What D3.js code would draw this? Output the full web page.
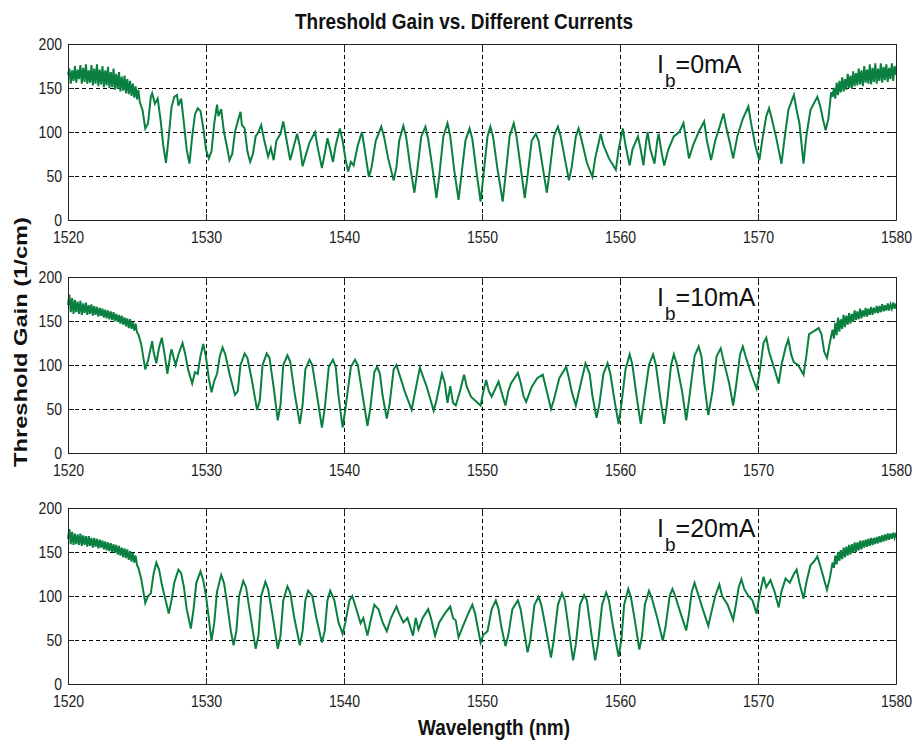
<!DOCTYPE html>
<html>
<head>
<meta charset="utf-8">
<script src="https://cdn.jsdelivr.net/npm/d3@7"></script>
<style>
  body { margin: 0; background: #fff; }
  svg { display: block; overflow: visible; }
</style>
</head>
<body>
<div id="chart"></div>
<script>
// axis ticks
const wavelengthTicks = [1520, 1530, 1540, 1550, 1560, 1570, 1580];
const gainTicks = [0, 50, 100, 150, 200];
const currents = ["0mA", "10mA", "20mA"];

// threshold gain (1/cm) vs wavelength (nm)
const ib0mA = [
  [1520.0,165],[1520.1,172],[1520.2,155],[1520.3,170],[1520.4,158],[1520.5,175],[1520.6,156],[1520.7,171],[1520.8,160],[1520.9,176],
  [1521.0,155],[1521.1,173],[1521.2,157],[1521.3,177],[1521.4,155],[1521.5,170],[1521.6,156],[1521.7,176],[1521.8,153],[1521.9,172],
  [1522.0,155],[1522.1,177],[1522.2,152],[1522.3,171],[1522.4,154],[1522.5,175],[1522.6,151],[1522.7,170],[1522.8,153],[1522.9,174],
  [1523.0,150],[1523.1,168],[1523.2,151],[1523.3,172],[1523.4,148],[1523.5,166],[1523.6,149],[1523.7,168],[1523.8,146],[1523.9,163],
  [1524.0,147],[1524.1,164],[1524.2,144],[1524.3,160],[1524.4,143],[1524.5,158],[1524.6,141],[1524.7,155],[1524.8,139],[1524.9,152],
  [1525.0,137],[1525.1,148],[1525.2,134],
  [1525.4,125],[1525.6,104],[1525.8,110],[1526.0,140],[1526.1,144],[1526.3,132],[1526.5,138],[1526.7,115],[1526.9,85],[1527.1,65],
  [1527.3,95],[1527.5,128],[1527.7,140],[1527.9,142],[1528.0,130],[1528.2,138],[1528.4,110],[1528.6,80],[1528.8,64],[1529.0,95],
  [1529.2,120],[1529.4,127],[1529.6,124],[1529.8,105],[1530.0,80],[1530.2,70],[1530.4,78],[1530.6,110],[1530.8,131],[1530.9,118],
  [1531.1,126],[1531.3,100],[1531.5,85],[1531.7,68],[1531.9,75],[1532.1,100],[1532.3,112],[1532.5,123],[1532.6,108],[1532.8,104],
  [1533.0,78],[1533.2,66],[1533.4,75],[1533.6,95],[1533.8,100],[1534.0,108],[1534.2,92],[1534.5,72],[1534.7,82],[1534.9,68],
  [1535.1,90],[1535.4,98],[1535.6,112],[1535.8,94],[1536.1,68],[1536.3,80],[1536.6,98],[1536.8,84],[1537.0,61],[1537.2,72],
  [1537.5,88],[1537.9,100],[1538.1,82],[1538.4,59],[1538.6,75],[1538.8,93],[1539.0,80],[1539.2,66],[1539.4,85],[1539.7,104],
  [1539.9,90],[1540.1,70],[1540.3,55],[1540.5,66],[1540.7,62],[1541.0,85],[1541.3,100],[1541.5,80],[1541.8,49],[1542.0,60],
  [1542.3,90],[1542.7,106],[1542.9,95],[1543.2,70],[1543.6,45],[1543.8,60],[1544.0,90],[1544.3,107],[1544.5,95],[1544.8,60],
  [1545.1,31],[1545.3,55],[1545.6,95],[1545.9,106],[1546.1,92],[1546.4,60],[1546.7,25],[1546.9,50],[1547.2,95],[1547.5,110],
  [1547.7,95],[1548.0,55],[1548.3,23],[1548.5,50],[1548.8,90],[1549.1,104],[1549.3,92],[1549.6,55],[1549.9,21],[1550.1,50],
  [1550.4,95],[1550.6,106],[1550.8,95],[1551.1,60],[1551.5,21],[1551.7,50],[1552.0,95],[1552.3,110],[1552.5,95],[1552.8,60],
  [1553.1,25],[1553.3,50],[1553.6,90],[1553.9,98],[1554.1,90],[1554.4,60],[1554.7,31],[1554.9,55],[1555.2,95],[1555.5,106],
  [1555.7,95],[1556.0,70],[1556.3,45],[1556.5,60],[1556.8,95],[1557.0,104],[1557.2,92],[1557.6,65],[1558.0,49],[1558.2,70],
  [1558.6,98],[1558.8,85],[1559.2,70],[1559.7,57],[1559.9,80],[1560.2,104],[1560.4,85],[1560.7,62],[1560.9,80],[1561.3,95],
  [1561.5,80],[1561.7,62],[1561.9,90],[1562.0,100],[1562.2,80],[1562.5,64],[1562.7,90],[1562.8,98],[1563.0,78],[1563.2,62],
  [1563.5,80],[1563.9,95],[1564.3,100],[1564.6,110],[1564.8,90],[1565.0,70],[1565.3,85],[1565.7,100],[1566.1,112],[1566.3,90],
  [1566.6,68],[1566.9,90],[1567.2,105],[1567.5,121],[1567.7,105],[1568.0,85],[1568.2,70],[1568.5,95],[1568.9,115],[1569.3,129],
  [1569.5,110],[1569.8,85],[1570.1,68],[1570.3,90],[1570.6,118],[1570.8,127],[1571.0,115],[1571.3,95],[1571.7,64],[1571.9,90],
  [1572.2,125],[1572.6,142],[1572.8,125],[1573.0,110],[1573.3,64],[1573.5,95],[1573.8,125],[1574.3,140],[1574.5,130],[1574.7,115],
  [1574.9,102],[1575.1,115],[1575.3,145],
  [1575.4,140],[1575.5,150],[1575.6,138],[1575.7,156],[1575.8,142],[1575.9,158],[1576.0,145],[1576.1,162],[1576.2,146],[1576.3,160],
  [1576.4,148],[1576.5,166],[1576.6,150],[1576.7,164],[1576.8,149],[1576.9,169],[1577.0,152],[1577.1,167],[1577.2,153],[1577.3,172],
  [1577.4,154],[1577.5,170],[1577.6,152],[1577.7,175],[1577.8,156],[1577.9,171],[1578.0,155],[1578.1,177],[1578.2,154],[1578.3,173],
  [1578.4,157],[1578.5,178],[1578.6,155],[1578.7,172],[1578.8,158],[1578.9,178],[1579.0,156],[1579.1,174],[1579.2,159],[1579.3,177],
  [1579.4,157],[1579.5,173],[1579.6,160],[1579.7,178],[1579.8,158],[1579.9,175],[1580.0,165]
];

const ib10mA = [
  [1520.0,168],[1520.1,180],[1520.2,160],[1520.3,176],[1520.4,158],[1520.5,174],[1520.6,160],[1520.7,172],[1520.8,158],[1520.9,173],
  [1521.0,157],[1521.1,170],[1521.2,159],[1521.3,171],[1521.4,157],[1521.5,168],[1521.6,158],[1521.7,169],[1521.8,156],[1521.9,167],
  [1522.0,157],[1522.1,166],[1522.2,155],[1522.3,165],[1522.4,156],[1522.5,164],[1522.6,154],[1522.7,163],[1522.8,153],[1522.9,162],
  [1523.0,152],[1523.1,161],[1523.2,151],[1523.3,160],[1523.4,150],[1523.5,158],[1523.6,149],[1523.7,157],[1523.8,147],[1523.9,156],
  [1524.0,146],[1524.1,154],[1524.2,144],[1524.3,153],[1524.4,142],[1524.5,152],[1524.6,141],[1524.7,149],[1524.8,139],[1524.9,147],
  [1525.0,137],[1525.1,135],
  [1525.3,124],[1525.6,95],[1525.8,105],[1526.1,127],[1526.2,115],[1526.4,102],[1526.6,120],[1526.8,131],[1527.0,112],[1527.2,90],
  [1527.4,110],[1527.5,118],[1527.8,100],[1528.0,112],[1528.3,125],[1528.5,112],[1528.7,95],[1529.0,79],[1529.2,92],[1529.4,90],
  [1529.6,110],[1529.8,124],[1530.0,109],[1530.2,85],[1530.4,69],[1530.6,82],[1530.8,90],[1531.0,110],[1531.2,120],[1531.4,112],
  [1531.7,90],[1532.1,66],[1532.3,70],[1532.5,100],[1532.8,113],[1533.0,108],[1533.3,85],[1533.7,49],[1533.9,60],[1534.1,100],
  [1534.4,113],[1534.6,108],[1534.9,75],[1535.2,37],[1535.4,55],[1535.6,100],[1535.9,111],[1536.1,104],[1536.4,70],[1536.8,33],
  [1537.0,55],[1537.2,95],[1537.5,106],[1537.7,100],[1538.0,70],[1538.4,29],[1538.6,50],[1538.9,98],[1539.2,106],[1539.4,98],
  [1539.6,65],[1539.9,29],[1540.1,50],[1540.5,98],[1540.8,106],[1541.0,100],[1541.3,70],[1541.7,31],[1541.9,50],[1542.2,92],
  [1542.4,98],[1542.6,90],[1542.8,65],[1543.1,39],[1543.3,55],[1543.6,95],[1543.8,100],[1544.0,90],[1544.4,70],[1544.9,49],
  [1545.1,65],[1545.5,97],[1545.7,88],[1546.0,75],[1546.5,48],[1546.7,60],[1547.1,90],[1547.3,80],[1547.5,57],[1547.7,76],
  [1547.9,57],[1548.1,54],[1548.4,70],[1548.7,89],[1548.9,75],[1549.2,64],[1549.9,54],[1550.1,70],[1550.3,83],[1550.5,70],
  [1550.7,64],[1551.2,81],[1551.4,70],[1551.7,54],[1551.9,70],[1552.1,79],[1552.6,91],[1552.8,80],[1553.0,65],[1553.2,58],
  [1553.6,75],[1554.0,85],[1554.4,89],[1554.7,70],[1555.0,50],[1555.2,60],[1555.6,85],[1556.1,98],[1556.3,85],[1556.5,70],
  [1556.8,54],[1557.1,75],[1557.5,102],[1557.8,90],[1558.0,65],[1558.3,40],[1558.5,55],[1558.8,90],[1559.1,102],[1559.3,90],
  [1559.6,60],[1559.9,33],[1560.1,55],[1560.4,95],[1560.7,112],[1560.9,100],[1561.2,65],[1561.5,33],[1561.7,55],[1562.1,100],
  [1562.4,112],[1562.6,100],[1562.9,65],[1563.2,33],[1563.4,55],[1563.7,100],[1563.9,112],[1564.1,102],[1564.5,70],[1564.8,37],
  [1565.0,60],[1565.4,110],[1565.7,121],[1565.9,110],[1566.1,80],[1566.4,43],[1566.7,70],[1567.0,110],[1567.3,119],[1567.5,105],
  [1567.9,80],[1568.2,54],[1568.4,75],[1568.7,112],[1568.9,121],[1569.1,110],[1569.5,90],[1569.9,73],[1570.1,90],[1570.4,125],
  [1570.6,131],[1570.8,115],[1571.0,105],[1571.2,95],[1571.5,79],[1571.7,100],[1572.0,120],[1572.2,129],[1572.4,112],[1572.6,103],
  [1572.9,100],[1573.3,89],[1573.5,110],[1573.7,135],[1574.0,138],[1574.4,142],[1574.6,135],[1574.8,115],[1575.0,108],[1575.2,125],
  [1575.4,140],
  [1575.5,130],[1575.6,148],[1575.7,134],[1575.8,154],[1575.9,138],[1576.0,152],[1576.1,141],[1576.2,157],[1576.3,143],[1576.4,156],
  [1576.5,146],[1576.6,159],[1576.7,147],[1576.8,158],[1576.9,149],[1577.0,162],[1577.1,151],[1577.2,161],[1577.3,152],[1577.4,164],
  [1577.5,153],[1577.6,162],[1577.7,155],[1577.8,165],[1577.9,155],[1578.0,164],[1578.1,157],[1578.2,166],[1578.3,157],[1578.4,165],
  [1578.5,159],[1578.6,167],[1578.7,159],[1578.8,167],[1578.9,160],[1579.0,169],[1579.1,161],[1579.2,168],[1579.3,162],[1579.4,170],
  [1579.5,162],[1579.6,169],[1579.7,164],[1579.8,171],[1579.9,164],[1580.0,170]
];

const ib20mA = [
  [1520.0,165],[1520.1,176],[1520.2,159],[1520.3,173],[1520.4,158],[1520.5,171],[1520.6,159],[1520.7,170],[1520.8,158],[1520.9,171],
  [1521.0,157],[1521.1,169],[1521.2,158],[1521.3,168],[1521.4,156],[1521.5,168],[1521.6,157],[1521.7,166],[1521.8,155],[1521.9,166],
  [1522.0,156],[1522.1,165],[1522.2,154],[1522.3,164],[1522.4,155],[1522.5,163],[1522.6,153],[1522.7,162],[1522.8,152],[1522.9,161],
  [1523.0,151],[1523.1,160],[1523.2,150],[1523.3,159],[1523.4,149],[1523.5,158],[1523.6,147],[1523.7,157],[1523.8,146],[1523.9,155],
  [1524.0,144],[1524.1,154],[1524.2,143],[1524.3,153],[1524.4,141],[1524.5,151],[1524.6,139],[1524.7,149],[1524.8,138],[1524.9,146],
  [1525.0,135],[1525.1,132],
  [1525.3,120],[1525.6,92],[1525.8,100],[1526.0,103],[1526.2,125],[1526.4,138],[1526.6,130],[1526.8,113],[1527.0,100],[1527.3,80],
  [1527.5,95],[1527.7,115],[1528.0,130],[1528.2,126],[1528.4,110],[1528.6,85],[1528.9,63],[1529.1,85],[1529.3,115],[1529.6,128],
  [1529.8,118],[1530.0,100],[1530.2,75],[1530.4,49],[1530.6,70],[1530.8,105],[1531.1,124],[1531.3,115],[1531.5,95],[1531.8,60],
  [1532.0,44],[1532.2,60],[1532.4,100],[1532.7,117],[1532.9,110],[1533.2,80],[1533.6,40],[1533.8,55],[1534.0,100],[1534.3,116],
  [1534.5,108],[1534.8,80],[1535.2,40],[1535.4,55],[1535.6,95],[1535.9,111],[1536.1,104],[1536.4,75],[1536.8,44],[1537.0,60],
  [1537.2,95],[1537.4,106],[1537.7,100],[1538.0,75],[1538.4,47],[1538.6,60],[1538.8,95],[1539.0,106],[1539.3,95],[1539.6,70],
  [1539.9,57],[1540.1,70],[1540.4,95],[1540.6,100],[1540.9,85],[1541.2,69],[1541.4,75],[1541.7,55],[1541.9,70],[1542.2,90],
  [1542.5,85],[1542.8,70],[1543.1,60],[1543.4,75],[1543.8,88],[1544.0,80],[1544.3,70],[1544.6,75],[1545.0,55],[1545.2,75],
  [1545.4,62],[1545.7,75],[1546.1,85],[1546.3,75],[1546.6,55],[1546.9,70],[1547.3,80],[1547.7,88],[1547.9,75],[1548.1,72],
  [1548.3,53],[1548.6,65],[1549.0,80],[1549.3,90],[1549.5,80],[1549.9,47],[1550.1,56],[1550.4,60],[1550.7,85],[1551.0,95],
  [1551.2,85],[1551.4,65],[1551.7,43],[1551.9,55],[1552.2,85],[1552.6,95],[1552.8,85],[1553.0,65],[1553.3,36],[1553.5,50],
  [1553.8,90],[1554.1,99],[1554.3,90],[1554.6,65],[1555.0,30],[1555.2,50],[1555.5,90],[1555.8,103],[1556.0,95],[1556.3,60],
  [1556.6,27],[1556.8,45],[1557.1,90],[1557.4,101],[1557.6,95],[1557.9,60],[1558.2,27],[1558.4,45],[1558.7,90],[1559.0,104],
  [1559.2,95],[1559.5,65],[1559.9,31],[1560.1,50],[1560.3,90],[1560.6,108],[1560.8,98],[1561.1,70],[1561.4,39],[1561.6,55],
  [1561.8,90],[1562.1,106],[1562.3,98],[1562.7,75],[1563.1,49],[1563.3,65],[1563.6,100],[1563.8,108],[1564.0,100],[1564.4,80],
  [1564.8,61],[1565.0,80],[1565.2,105],[1565.4,115],[1565.6,105],[1566.0,85],[1566.4,66],[1566.6,80],[1566.9,100],[1567.2,113],
  [1567.4,100],[1567.8,90],[1568.2,73],[1568.4,90],[1568.6,110],[1568.8,119],[1569.0,108],[1569.3,100],[1569.6,95],[1569.9,80],
  [1570.1,100],[1570.4,122],[1570.6,110],[1570.9,118],[1571.2,105],[1571.5,87],[1571.7,105],[1572.0,120],[1572.3,115],[1572.6,125],
  [1572.8,130],[1573.0,115],[1573.3,97],[1573.5,115],[1573.8,135],[1574.1,140],[1574.3,145],[1574.5,135],[1574.8,118],[1575.0,107],
  [1575.2,120],[1575.4,138],
  [1575.5,132],[1575.6,146],[1575.7,136],[1575.8,150],[1575.9,140],[1576.0,152],[1576.1,142],[1576.2,155],[1576.3,144],[1576.4,156],
  [1576.5,146],[1576.6,158],[1576.7,147],[1576.8,159],[1576.9,149],[1577.0,161],[1577.1,150],[1577.2,161],[1577.3,152],[1577.4,163],
  [1577.5,153],[1577.6,163],[1577.7,155],[1577.8,164],[1577.9,156],[1578.0,165],[1578.1,157],[1578.2,166],[1578.3,158],[1578.4,166],
  [1578.5,159],[1578.6,167],[1578.7,160],[1578.8,168],[1578.9,161],[1579.0,169],[1579.1,162],[1579.2,170],[1579.3,163],[1579.4,171],
  [1579.5,164],[1579.6,171],[1579.7,165],[1579.8,172],[1579.9,166],[1580.0,172]
];

const series = [ib0mA, ib10mA, ib20mA];

const width = 916, height = 743;
const margin = {left: 68, right: 20};
const panelTops = [44, 277, 508];
const panelHeight = 176;
const green = "#0a8040";
const ink = "#222";

const svg = d3.select("#chart").append("svg")
  .attr("width", width)
  .attr("height", height)
  .style("font-family", "'Liberation Sans', Arial, sans-serif");

const x = d3.scaleLinear()
  .domain([wavelengthTicks[0], wavelengthTicks[wavelengthTicks.length - 1]])
  .range([margin.left, width - margin.right]);

// squeeze tick labels the way the original (stretched) figure does
function styleTickText(sel) {
  sel.selectAll("text")
    .attr("fill", ink)
    .attr("font-size", 17)
    .attr("font-family", "'Liberation Sans', Arial, sans-serif")
    .attr("textLength", d => String(d).length * 7.8)
    .attr("lengthAdjust", "spacingAndGlyphs");
}

series.forEach((data, i) => {
  const top = panelTops[i];
  const bottom = top + panelHeight;
  const y = d3.scaleLinear().domain([0, 200]).range([bottom, top]);
  const g = svg.append("g");

  // dashed grid
  g.append("g")
    .attr("transform", `translate(0,${bottom})`)
    .call(d3.axisBottom(x).tickValues(wavelengthTicks.slice(1, -1)).tickSize(-panelHeight).tickFormat(""))
    .call(a => a.select(".domain").remove())
    .selectAll("line")
      .attr("stroke", "#000")
      .attr("stroke-dasharray", "4,3");

  g.append("g")
    .attr("transform", `translate(${margin.left},0)`)
    .call(d3.axisLeft(y).tickValues(gainTicks.slice(1, -1)).tickSize(-(width - margin.left - margin.right)).tickFormat(""))
    .call(a => a.select(".domain").remove())
    .selectAll("line")
      .attr("stroke", "#000")
      .attr("stroke-dasharray", "4,3");

  // the trace
  const line = d3.line()
    .x(d => x(d[0]))
    .y(d => y(d[1]));

  g.append("path")
    .datum(data)
    .attr("fill", "none")
    .attr("stroke", green)
    .attr("stroke-width", 2)
    .attr("d", line);

  // box with inward ticks
  g.append("g")
    .attr("transform", `translate(0,${bottom})`)
    .call(d3.axisBottom(x).tickValues(wavelengthTicks).tickSize(-6).tickSizeOuter(0).tickPadding(11).tickFormat(d3.format("d")))
    .call(styleTickText)
    .call(a => a.selectAll("line, path").attr("stroke", ink));

  g.append("g")
    .attr("transform", `translate(0,${top})`)
    .call(d3.axisTop(x).tickValues(wavelengthTicks).tickSize(-6).tickSizeOuter(0).tickFormat(""))
    .call(a => a.selectAll("line, path").attr("stroke", ink));

  g.append("g")
    .attr("transform", `translate(${margin.left},0)`)
    .call(d3.axisLeft(y).tickValues(gainTicks).tickSize(-6).tickSizeOuter(0).tickPadding(6))
    .call(styleTickText)
    .call(a => a.selectAll("line, path").attr("stroke", ink));

  g.append("g")
    .attr("transform", `translate(${width - margin.right},0)`)
    .call(d3.axisRight(y).tickValues(gainTicks).tickSize(-6).tickSizeOuter(0).tickFormat(""))
    .call(a => a.selectAll("line, path").attr("stroke", ink));

  // I_b label
  const label = g.append("text")
    .attr("x", 657)
    .attr("y", top + 29)
    .attr("fill", "#111")
    .attr("font-size", 25);
  label.append("tspan").text("I");
  label.append("tspan").attr("font-size", 19).attr("dy", 14).attr("dx", 1).text("b");
  label.append("tspan").attr("dy", -14).text("=" + currents[i]);
});

// title and axis labels
svg.append("text")
  .attr("x", 464)
  .attr("y", 29)
  .attr("text-anchor", "middle")
  .attr("font-size", 22)
  .attr("font-weight", "bold")
  .attr("fill", "#111")
  .attr("textLength", 338)
  .attr("lengthAdjust", "spacingAndGlyphs")
  .text("Threshold Gain vs. Different Currents");

svg.append("text")
  .attr("x", 494)
  .attr("y", 735)
  .attr("text-anchor", "middle")
  .attr("font-size", 22)
  .attr("font-weight", "bold")
  .attr("fill", "#111")
  .attr("textLength", 152)
  .attr("lengthAdjust", "spacingAndGlyphs")
  .text("Wavelength (nm)");

svg.append("text")
  .attr("transform", "translate(27,342) rotate(-90)")
  .attr("text-anchor", "middle")
  .attr("font-size", 19)
  .attr("font-weight", "bold")
  .attr("fill", "#111")
  .attr("textLength", 250)
  .attr("lengthAdjust", "spacingAndGlyphs")
  .text("Threshold Gain (1/cm)");
</script>
</body>
</html>
